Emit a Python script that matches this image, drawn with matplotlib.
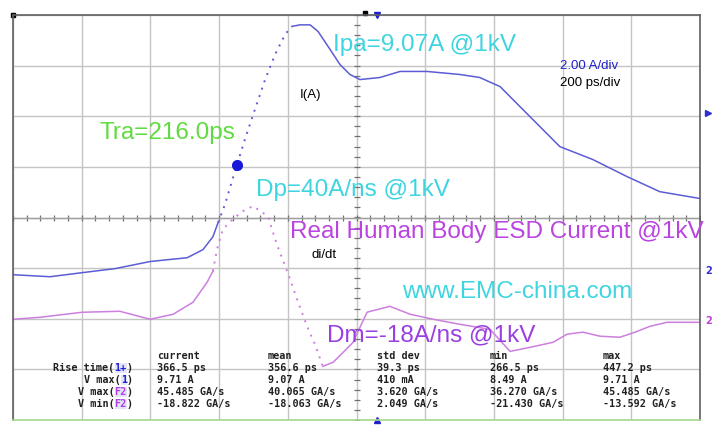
import numpy as np
import matplotlib
matplotlib.use("Agg")
import matplotlib.pyplot as plt

# Channel 1: discharge current (A) vs time (ps)
current_t = [0, 108, 201, 297, 399, 448, 507, 553, 582, 597,
             617, 652, 675, 704, 734, 763, 792,
             812, 835, 865, 888, 923, 952, 981, 1010, 1068, 1127, 1205,
             1301, 1359, 1418, 1476, 1534, 1592, 1688, 1787, 1883, 2000]
current_a = [-0.16, -0.24, -0.08, 0.08, 0.36, 0.43, 0.51, 0.83, 1.34, 1.90,
             2.61, 4.19, 5.18, 6.36, 7.55, 8.54, 9.33,
             9.65, 9.71, 9.71, 9.45, 8.74, 8.14, 7.75, 7.55, 7.63, 7.87, 7.87,
             7.75, 7.63, 7.27, 6.48, 5.69, 4.90, 4.39, 3.72, 3.12, 2.85]
current_fast = (9, 17)   # sparse samples on the rising edge

# Function 2: di/dt (A/ns) vs time (ps)
didt_t = [0, 79, 201, 311, 399, 466, 524, 565, 582,
          594, 611, 640, 669, 699, 742, 768, 798, 827, 856, 879, 902,
          932, 961, 990, 1010, 1031, 1097, 1156, 1223, 1301, 1389, 1447,
          1505, 1572, 1613, 1659, 1709, 1767, 1811, 1854, 1904, 2000]
didt_a = [0.79, 1.58, 3.56, 3.95, 0.79, 2.77, 7.51, 15.4, 19.8,
          28.5, 36.4, 40.3, 43.5, 45.5, 41.5, 30.4, 19.8, 8.7, -2.0, -9.1, -17.8,
          -16.2, -12.3, -8.3, -2.4, 3.6, 5.9, 2.8, 0.8, -1.2, -3.2, -11.9,
          -10.3, -8.3, -5.1, -4.3, -5.9, -6.3, -4.3, -2.0, -0.4, -0.4]
didt_fast = (8, 20)

tra_t, tra_a = 652, 4.19

# scope settings
ps_per_div = 200
amp_per_div = 2.0
didt_per_div = 20.0
ch1_pos = -1.05
f2_pos = -2.05

meas_cols = ["current", "mean", "std dev", "min", "max"]
meas_rows = [("Rise time(", "1+", "#2020d0"), ("V max(", "1", "#2020d0"),
             ("V max(", "F2", "#b040e0"), ("V min(", "F2", "#b040e0")]
meas_vals = [["366.5 ps", "356.6 ps", "39.3 ps", "266.5 ps", "447.2 ps"],
             ["9.71 A", "9.07 A", "410 mA", "8.49 A", "9.71 A"],
             ["45.485 GA/s", "40.065 GA/s", "3.620 GA/s", "36.270 GA/s", "45.485 GA/s"],
             ["-18.822 GA/s", "-18.063 GA/s", "2.049 GA/s", "-21.430 GA/s", "-13.592 GA/s"]]

CH1 = "#5c5cd6"
F2 = "#cc7fde"
CYAN = "#3fd5e0"

fig = plt.figure(figsize=(7.16, 4.25), dpi=100)
ax = fig.add_axes([13 / 716, 5 / 425, 687 / 716, 405 / 425])
ax.set_xlim(0, 10 * ps_per_div)
ax.set_ylim(-4, 4)
ax.set_xticks(np.arange(0, 10 * ps_per_div + 1, ps_per_div))
ax.set_yticks(np.arange(-4, 5, 1))
ax.tick_params(length=0, labelbottom=False, labelleft=False)
ax.grid(True, color="#c4c4c4", lw=1.0)
for s in ax.spines.values():
    s.set_color("#606060")
    s.set_linewidth(1.2)
ax.spines["bottom"].set_color("#a6d88c")

# graticule centre ticks
mx = np.arange(0, 10 * ps_per_div + 1, ps_per_div / 5)
ax.plot(mx, np.zeros_like(mx), ls="none", marker="|", ms=4, mew=0.9, color="#707070")
my = np.arange(-4, 4.01, 0.2)
ax.plot(np.full_like(my, 5 * ps_per_div), my, ls="none", marker="_", ms=4, mew=0.9, color="#707070")
ax.axhline(0, color="#a0a0a0", lw=1.0)


def draw_trace(t, v, per_div, pos, fast, color):
    t = np.asarray(t, float)
    y = np.asarray(v, float) / per_div + pos
    a, b = fast
    ax.plot(t[:a + 1], y[:a + 1], color=color, lw=1.1)
    ax.plot(t[a:b + 1], y[a:b + 1], color=color, lw=1.4, ls=(0, (1, 3)))
    ax.plot(t[b:], y[b:], color=color, lw=1.1)


draw_trace(current_t, current_a, amp_per_div, ch1_pos, current_fast, CH1)
draw_trace(didt_t, didt_a, didt_per_div, f2_pos, didt_fast, F2)
ax.plot(tra_t, tra_a / amp_per_div + ch1_pos, "o", ms=7, color="#1818d8")

big = dict(family="Liberation Sans", fontsize=17.5, va="center", ha="left", clip_on=False)
ax.text(932, 3.41, "Ipa=9.07A @1kV", color=CYAN, **big)
ax.text(253, 1.67, "Tra=216.0ps", color="#60dc40", **big)
ax.text(707, 0.54, "Dp=40A/ns @1kV", color=CYAN, **big)
ax.text(806, -0.29, "Real Human Body ESD Current @1kV", color="#bb44e0", **big)
ax.text(1132, -1.47, "www.EMC-china.com", color=CYAN, **big)
ax.text(914, -2.32, "Dm=-18A/ns @1kV", color="#9a40e0", **big)

small = dict(family="Liberation Sans", fontsize=9.5, va="center", ha="left")
ax.text(835, 2.42, "I(A)", color="black", **small)
ax.text(870, -0.74, "di/dt", color="black", **small)
ax.text(1592, 2.99, "2.00 A/div", color="#2020c8", **small)
ax.text(1592, 2.66, "200 ps/div", color="black", **small)

# measurement table
fs_tab = 7.3
mono = dict(family="DejaVu Sans Mono", fontsize=fs_tab, fontweight="bold", color="#202020")
col_x = [419, 742, 1060, 1389, 1717]
row_y = [-2.98, -3.215, -3.45, -3.685]
for cx, name in zip(col_x, meas_cols):
    ax.text(cx, -2.745, name, ha="left", va="center", **mono)
for ry, (lab, ch, chc), vals in zip(row_y, meas_rows, meas_vals):
    close = ax.text(349, ry, ")", ha="right", va="center", **mono)
    chan = ax.annotate(ch, xy=(0, 0.5), xycoords=close, ha="right", va="center",
                       family="DejaVu Sans Mono", fontsize=fs_tab, fontweight="bold", color=chc,
                       bbox=dict(boxstyle="square,pad=0", fc="#e4e4fa", ec="none"))
    ax.annotate(lab, xy=(0, 0.5), xycoords=chan, ha="right", va="center", **mono)
    for cx, v in zip(col_x, vals):
        ax.text(cx, ry, v, ha="left", va="center", **mono)

# position markers in the margins
ax.plot(1025, 4.03, marker="s", ms=3, color="black", clip_on=False)
ax.plot(1060, 4.0, marker="v", ms=5, color="#2020d0", clip_on=False)
ax.plot(1060, -4.0, marker="^", ms=5, color="#2020d0", clip_on=False)
ax.plot(0, 4.0, marker="s", ms=3, color="black", clip_on=False)
ax.plot(2000 + 22, 2.07, marker=">", ms=4, color="#3030d0", clip_on=False)
ax.text(2000 + 15, ch1_pos, "2", color="#3030d0", fontsize=7, fontweight="bold", va="center")
ax.text(2000 + 15, f2_pos, "2", color="#c040d8", fontsize=7, fontweight="bold", va="center")

fig.savefig("out.png", dpi=100)
